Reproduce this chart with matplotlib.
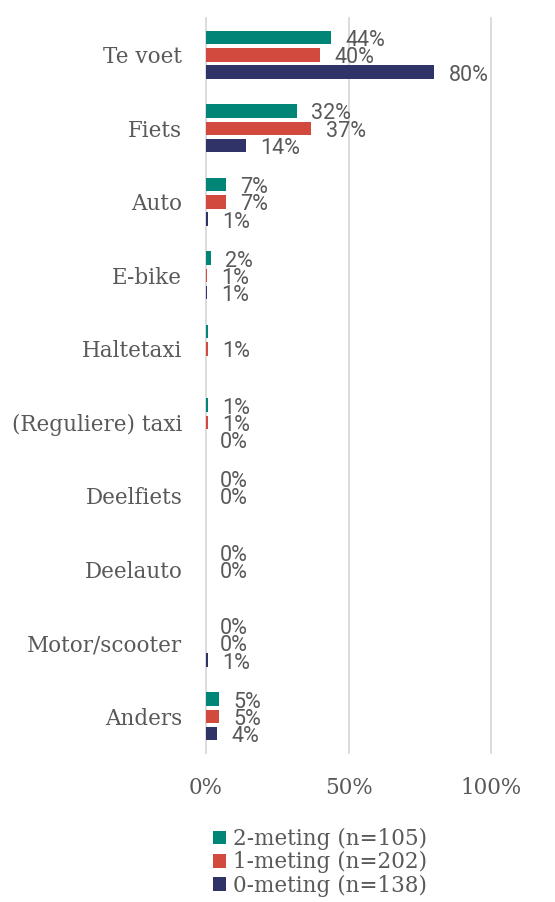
import numpy as np
import matplotlib.pyplot as plt
from matplotlib.patches import Patch

categories = ['Te voet', 'Fiets', 'Auto', 'E-bike', 'Haltetaxi',
              '(Reguliere) taxi', 'Deelfiets', 'Deelauto', 'Motor/scooter', 'Anders']
series = ['2-meting (n=105)', '1-meting (n=202)', '0-meting (n=138)']
meting_2 = [44, 32, 7, 1.8, 0.6, 0.6, 0, 0, 0, 4.7]
meting_1 = [40, 37, 7, 0.5, 0.6, 0.6, 0, 0, 0, 4.7]
meting_0 = [80, 14, 0.7, 0.5, np.nan, 0, np.nan, np.nan, 0.6, 3.8]
colors = ['#008577', '#D2493E', '#2F3368']
# labels die in het origineel ontbreken: (reeks, categorie)
hidden_labels = {(0, 4)}

fig = plt.figure(figsize=(5.55, 9.02), dpi=100)
ax = fig.add_axes([0.371, 0.165, 0.514, 0.815])

y = np.arange(len(categories))
pitch = 0.235
height = 0.185
for i, (vals, col) in enumerate(zip([meting_2, meting_1, meting_0], colors)):
    pos = y + (i - 1) * pitch
    v = np.array(vals, dtype=float)
    ax.barh(pos, np.nan_to_num(v), height=height, color=col, linewidth=0, zorder=3)
    for j, val in enumerate(v):
        if np.isnan(val) or (i, j) in hidden_labels:
            continue
        ax.text(val + 5.0, pos[j] + 0.04, f'{int(val + 0.5)}%', va='center', ha='left',
                fontsize=15.5, color='#595959', family='Roboto', zorder=4)

ax.set_xlim(0, 100)
ax.set_ylim(9.5, -0.5)
ax.set_xticks([0, 50, 100])
ax.set_xticklabels(['0%', '50%', '100%'], family='DejaVu Serif', fontsize=15.5, color='#595959')
ax.set_yticks(y)
ax.set_yticklabels(categories, family='DejaVu Serif', fontsize=15.5, color='#595959')
ax.tick_params(length=0)
ax.tick_params(axis='x', pad=17)
ax.tick_params(axis='y', pad=17)
ax.grid(axis='x', color='#D9D9D9', linewidth=1.3, zorder=0)
for gl in ax.get_xgridlines():
    gl.set_clip_on(False)
for s in ax.spines.values():
    s.set_visible(False)

handles = [Patch(facecolor=c, edgecolor='none') for c in colors]
fig.legend(handles, series, loc='center', bbox_to_anchor=(0.577, 0.044),
           frameon=False, handlelength=0.6, handleheight=0.6, handletextpad=0.3,
           labelspacing=0.05, borderaxespad=0,
           prop={'family': 'DejaVu Serif', 'size': 15.5}, labelcolor='#595959')

fig.savefig('out.png', dpi=100)
